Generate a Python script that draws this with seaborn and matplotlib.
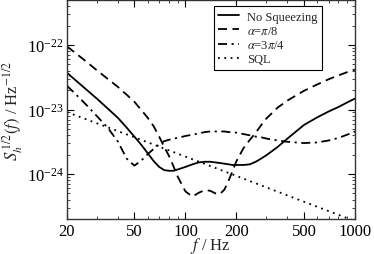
import numpy as np
import pandas as pd
import matplotlib
matplotlib.use("Agg")
import matplotlib.pyplot as plt
import matplotlib.ticker as mticker
import seaborn as sns

# ---- data (log10 of strain ASD) ----
freq = [20, 25, 30, 35, 40, 45, 50, 55, 60, 65, 70, 75, 80, 85, 90, 100, 110, 120,
        130, 140, 150, 160, 170, 180, 190, 200, 220, 240, 260, 280, 300, 350, 400,
        500, 600, 700, 800, 900, 1000]

no_squeeze_log = [-22.43, -22.65, -22.83, -22.99, -23.13, -23.28, -23.42, -23.55, -23.68,
                  -23.80, -23.89, -23.94, -23.95, -23.95, -23.93, -23.89, -23.85, -23.82,
                  -23.81, -23.81, -23.82, -23.83, -23.84, -23.85, -23.86, -23.86, -23.86,
                  -23.85, -23.81, -23.76, -23.71, -23.58, -23.45, -23.24, -23.12, -23.03,
                  -22.96, -22.89, -22.83]

pi8_log = [-22.02, -22.22, -22.39, -22.53, -22.65, -22.77, -22.88, -23.01, -23.13,
           -23.26, -23.42, -23.58, -23.72, -23.88, -24.04, -24.27, -24.35, -24.29,
           -24.25, -24.26, -24.30, -24.31, -24.24, -24.10, -23.95, -23.80, -23.60,
           -23.47, -23.36, -23.24, -23.14, -22.97, -22.86, -22.71, -22.61, -22.53,
           -22.47, -22.42, -22.38]

pi34_log = [-22.63, -22.88, -23.10, -23.29, -23.50, -23.76, -23.87, -23.79, -23.69,
            -23.61, -23.54, -23.49, -23.47, -23.45, -23.44, -23.41, -23.39, -23.37,
            -23.35, -23.34, -23.34, -23.34, -23.34, -23.35, -23.35, -23.36, -23.38,
            -23.40, -23.42, -23.43, -23.45, -23.48, -23.50, -23.52, -23.51, -23.48,
            -23.44, -23.39, -23.34]

sql_freq = [20, 50, 100, 200, 500, 1000]
sql_log = [-23.04, -23.43, -23.73, -24.03, -24.43, -24.73]

labels = ["No Squeezing", r"$\alpha$=$\pi$/8", r"$\alpha$=3$\pi$/4", "SQL"]
xticks = [20, 50, 100, 200, 500, 1000]
yticks = [1e-24, 1e-23, 1e-22]
xlim = (20, 1000)
ylim = (2e-25, 5e-22)

# ---- style ----
sns.set_style("ticks")
plt.rcParams["font.family"] = ["Liberation Serif", "DejaVu Serif"]
plt.rcParams["mathtext.fontset"] = "stix"
plt.rcParams.update({
    "xtick.direction": "in", "ytick.direction": "in",
    "xtick.top": True, "ytick.right": True,
    "xtick.major.size": 5, "ytick.major.size": 5,
    "xtick.minor.size": 2.5, "ytick.minor.size": 2.5,
    "xtick.major.width": 0.8, "ytick.major.width": 0.8,
    "xtick.minor.width": 0.6, "ytick.minor.width": 0.6,
    "axes.linewidth": 1.0,
    "axes.edgecolor": "#333333",
})

fig = plt.figure(figsize=(3.74, 2.55), dpi=100)
ax = fig.add_axes([0.179, 0.137, 0.770, 0.859])

def to_lin(v):
    return [10.0 ** x for x in v]

lw = 1.3
sns.lineplot(x=freq, y=to_lin(no_squeeze_log), ax=ax, color="black", lw=lw,
             linestyle="-", label=labels[0], sort=False, estimator=None)
sns.lineplot(x=freq, y=to_lin(pi8_log), ax=ax, color="black", lw=lw,
             linestyle=(0, (5, 3)), label=labels[1], sort=False, estimator=None)
sns.lineplot(x=freq, y=to_lin(pi34_log), ax=ax, color="black", lw=lw,
             linestyle=(0, (5, 2.5, 1.2, 2.5)), label=labels[2], sort=False, estimator=None)
sns.lineplot(x=sql_freq, y=to_lin(sql_log), ax=ax, color="black", lw=lw,
             linestyle=(0, (1, 2.5)), label=labels[3], sort=False, estimator=None)

ax.set_xscale("log")
ax.set_yscale("log")
ax.set_xlim(*xlim)
ax.set_ylim(*ylim)

ax.xaxis.set_major_locator(mticker.FixedLocator(xticks))
ax.xaxis.set_major_formatter(mticker.FixedFormatter([str(t) for t in xticks]))
ax.xaxis.set_minor_locator(mticker.LogLocator(base=10, subs=np.arange(2, 10)))
ax.xaxis.set_minor_formatter(mticker.NullFormatter())
ax.yaxis.set_major_locator(mticker.FixedLocator(yticks))
ax.yaxis.set_major_formatter(mticker.LogFormatterSciNotation())
ax.yaxis.set_minor_locator(mticker.LogLocator(base=10, subs=np.arange(2, 10), numticks=20))
ax.yaxis.set_minor_formatter(mticker.NullFormatter())
ax.tick_params(axis="both", which="major", labelsize=12, pad=2.5, colors="black")

ax.set_xlabel(r"$f$ / Hz", fontsize=12, labelpad=-2.5)
ax.set_ylabel(r"$S_h^{\,1/2}(f)$ / Hz$^{-1/2}$", fontsize=12, labelpad=1)

leg = ax.legend(loc="upper right", bbox_to_anchor=(0.885, 0.972), fontsize=9,
                frameon=True, fancybox=False, framealpha=1, edgecolor="black",
                handlelength=1.7, labelspacing=0.18, borderpad=0.35,
                handletextpad=0.6, borderaxespad=0)
leg.get_frame().set_linewidth(0.8)

fig.savefig("out.png", dpi=100)
